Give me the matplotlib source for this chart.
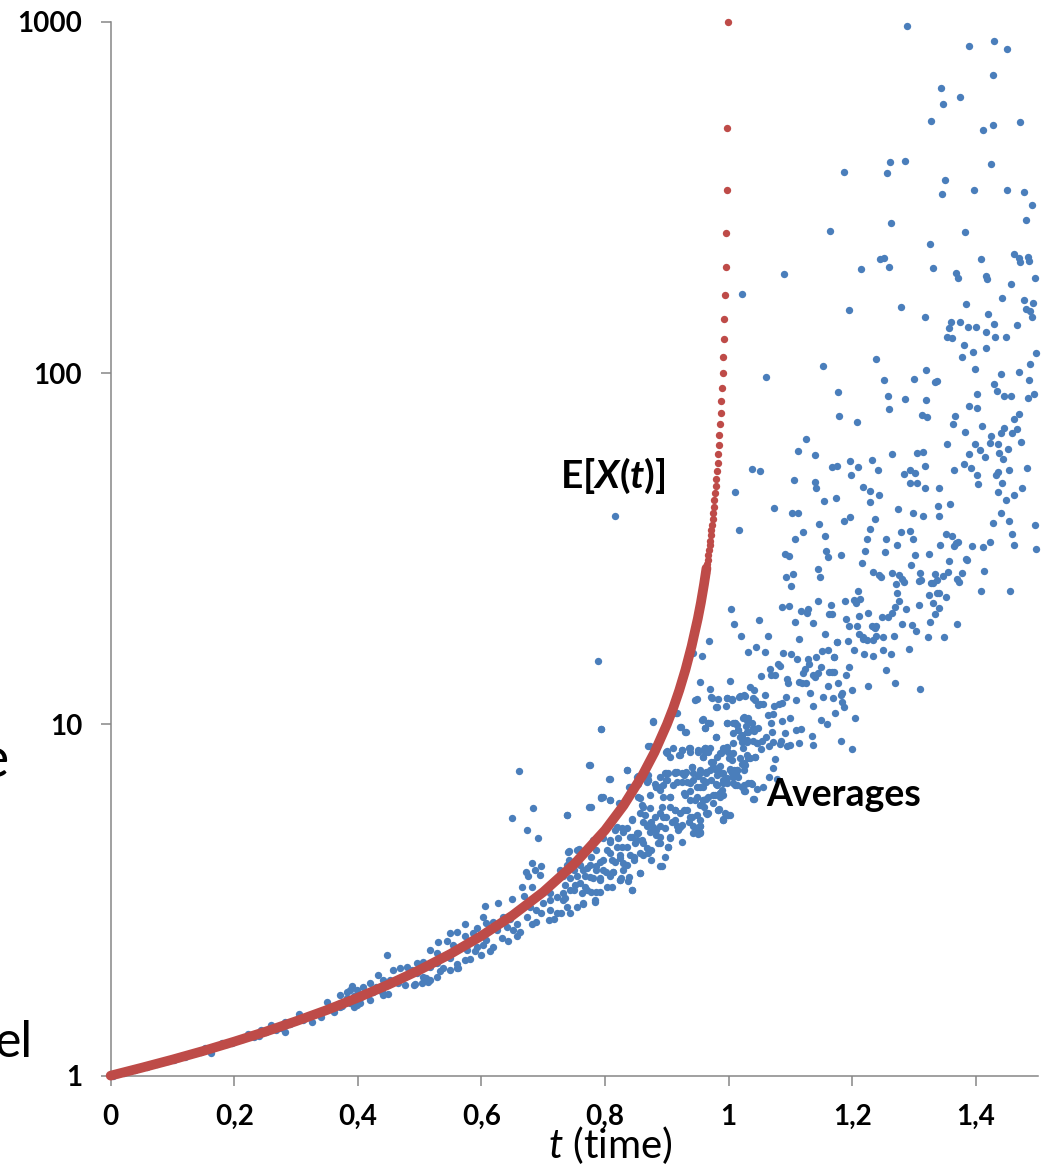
import numpy as np
import matplotlib
matplotlib.use("Agg")
import matplotlib.pyplot as plt
from matplotlib.ticker import NullLocator

plt.rcParams['font.family'] = ['Lato', 'DejaVu Sans']
plt.rcParams['mathtext.fontset'] = 'custom'
plt.rcParams['mathtext.rm'] = 'Lato'
plt.rcParams['mathtext.it'] = 'Lato:italic'
plt.rcParams['mathtext.bf'] = 'Lato:bold'
plt.rcParams['mathtext.bfit'] = 'Lato:italic:bold'

# E[X(t)] : continuous (dense) part of the red curve
curve_t = [0, 0.05, 0.1, 0.15, 0.2, 0.25, 0.3, 0.35, 0.4, 0.45, 0.5, 0.55, 0.6,
           0.65, 0.7, 0.75, 0.8, 0.83, 0.86, 0.88, 0.9, 0.91, 0.92, 0.93, 0.94,
           0.95, 0.955, 0.96, 0.964]
curve_x = [1.0, 1.053, 1.111, 1.176, 1.25, 1.333, 1.429, 1.538, 1.667, 1.818, 2.0,
           2.222, 2.5, 2.857, 3.333, 4.0, 5.0, 5.88, 7.14, 8.33, 10.0, 11.1, 12.5,
           14.3, 16.7, 20.0, 22.2, 25.0, 27.8]

# E[X(t)] : separate red dots close to the blow-up at t = 1
tail_t = [0.962, 0.963, 0.964, 0.965, 0.966, 0.967, 0.968, 0.969, 0.970, 0.971,
          0.972, 0.973, 0.974, 0.975, 0.976, 0.977, 0.978, 0.979, 0.980, 0.981,
          0.982, 0.983, 0.984, 0.985, 0.986, 0.987, 0.988, 0.989, 0.990, 0.991,
          0.992, 0.993, 0.994, 0.995, 0.996, 0.997, 0.998, 0.999]
tail_x = [26.3, 27.0, 27.8, 28.6, 29.4, 30.3, 31.3, 32.3, 33.3, 34.5,
          35.7, 37.0, 38.5, 40.0, 41.7, 43.5, 45.5, 47.6, 50.0, 52.6,
          55.6, 58.8, 62.5, 66.7, 71.4, 76.9, 83.3, 90.9, 100, 111,
          125, 143, 167, 200, 250, 333, 500, 1000]

# Averages (blue), early part where they hug the curve
early_t = [0.003, 0.012, 0.022, 0.030, 0.040, 0.048, 0.058, 0.066, 0.075, 0.085,
           0.093, 0.102, 0.110, 0.120, 0.128, 0.137, 0.146, 0.153, 0.163, 0.170,
           0.180, 0.188, 0.197, 0.205, 0.214, 0.223, 0.232, 0.240, 0.244, 0.252,
           0.260, 0.268, 0.275, 0.282, 0.282, 0.290, 0.298, 0.304, 0.312, 0.318,
           0.325, 0.332, 0.341, 0.350, 0.355, 0.362, 0.368, 0.375, 0.382, 0.390, 0.393]
early_x = [1.00, 1.01, 1.02, 1.03, 1.04, 1.05, 1.06, 1.07, 1.08, 1.09,
           1.10, 1.11, 1.125, 1.13, 1.15, 1.16, 1.17, 1.20, 1.16, 1.21,
           1.24, 1.23, 1.24, 1.26, 1.27, 1.31, 1.29, 1.30, 1.35, 1.33,
           1.39, 1.35, 1.37, 1.42, 1.33, 1.40, 1.43, 1.50, 1.44, 1.48,
           1.42, 1.50, 1.47, 1.62, 1.55, 1.52, 1.60, 1.58, 1.66, 1.80, 1.57]

# Averages (blue), dense band between t = 0.72 and t = 1.05
mid_t = [
    0.948, 0.972, 0.980, 0.997, 1.005, 1.018, 1.026, 1.040, 1.048, 0.916,
    0.878, 0.794, 0.921, 0.931, 0.959, 0.967, 0.961, 0.997, 1.010, 1.023,
    1.032, 1.037, 1.015, 1.029, 1.040, 0.979, 1.021, 1.029, 1.045, 0.870,
    0.899, 0.905, 0.920, 0.924, 0.936, 0.951, 0.961, 0.967, 0.959, 0.986,
    0.994, 0.999, 1.007, 1.023, 1.034, 1.042, 1.005, 0.776, 0.808, 0.835,
    0.854, 0.870, 0.889, 0.899, 0.913, 0.924, 0.931, 0.940, 0.953, 0.964,
    0.974, 0.983, 0.991, 1.002, 1.013, 1.026, 1.007, 0.883, 0.889, 0.894,
    0.899, 0.916, 0.932, 0.943, 0.948, 0.959, 0.972, 0.980, 0.991, 1.010,
    1.021, 1.037, 1.026, 1.040, 0.905, 0.894, 0.856, 0.794, 0.808, 0.929,
    0.937, 0.945, 0.959, 0.967, 0.978, 0.986, 0.975, 0.778, 0.738, 0.859,
    0.873, 0.889, 0.905, 0.913, 0.921, 0.932, 0.937, 0.948, 0.964, 0.983,
    0.994, 0.999, 0.991, 0.864, 0.881, 0.899, 0.913, 0.843, 0.862, 0.816,
    0.827, 0.835, 0.854, 0.867, 0.873, 0.883, 0.889, 0.897, 0.905, 0.916,
    0.924, 0.943, 0.953, 0.943, 0.951, 0.873, 0.883, 0.781, 0.797, 0.808,
    0.821, 0.827, 0.843, 0.848, 0.859, 0.867, 0.889, 0.902, 0.924, 0.786,
    0.754, 0.740, 0.808, 0.824, 0.840, 0.856, 0.870, 0.875, 0.889, 0.792,
    0.778, 0.816, 0.829, 0.846, 0.727, 0.738, 0.749, 0.759, 0.770, 0.786,
    0.802, 0.813, 0.829, 0.856, 0.732, 0.743, 0.754, 0.767, 0.781, 0.792,
    0.808, 0.824, 0.837, 0.735, 0.751, 0.767, 0.792, 0.811, 0.843, 0.732,
    0.749, 0.762, 0.778, 0.784, 0.765, 0.735,
]
mid_x = [
    11.78, 11.94, 11.23, 11.86, 11.73, 12.05, 12.05, 11.86, 11.36, 10.75,
    10.18, 9.68, 9.85, 9.53, 10.34, 10.07, 9.74, 10.07, 10.07, 10.40,
    10.40, 10.07, 9.64, 9.53, 9.64, 9.19, 9.23, 8.93, 8.83, 8.68,
    8.36, 8.10, 8.18, 8.46, 8.55, 8.36, 8.55, 8.36, 8.10, 8.27,
    8.55, 8.36, 8.83, 8.55, 8.01, 8.10, 7.92, 7.67, 6.98, 7.42,
    7.13, 6.95, 7.10, 7.26, 7.34, 7.26, 7.34, 7.55, 7.26, 7.29,
    7.79, 7.50, 7.26, 7.42, 7.42, 7.67, 7.10, 6.65, 6.51, 6.72,
    6.95, 6.87, 6.87, 6.95, 6.65, 6.65, 6.95, 6.77, 6.95, 6.72,
    6.65, 6.77, 6.48, 6.12, 6.23, 6.23, 6.16, 6.20, 6.09, 6.30,
    6.44, 6.09, 6.09, 6.20, 6.30, 6.37, 5.96, 5.83, 5.52, 5.90,
    5.77, 5.58, 5.83, 5.71, 5.58, 5.71, 5.46, 5.52, 5.58, 5.71,
    5.61, 5.52, 5.34, 5.52, 5.46, 5.46, 5.34, 5.37, 5.29, 5.01,
    5.06, 5.06, 4.90, 5.12, 5.23, 5.01, 5.12, 5.06, 4.79, 5.12,
    5.17, 5.12, 5.12, 4.90, 4.88, 4.95, 4.84, 4.69, 4.74, 4.64,
    4.74, 4.49, 4.79, 4.59, 4.69, 4.44, 4.59, 4.49, 4.64, 4.39,
    4.39, 4.34, 4.30, 4.25, 4.25, 4.30, 4.30, 4.11, 3.94, 4.07,
    4.20, 4.07, 4.02, 4.11, 3.85, 3.98, 3.85, 3.98, 3.90, 3.85,
    3.81, 3.81, 3.85, 3.77, 3.69, 3.65, 3.69, 3.69, 3.65, 3.61,
    3.69, 3.61, 3.57, 3.49, 3.49, 3.45, 3.34, 3.45, 3.38, 3.31,
    3.38, 3.31, 3.34, 3.16, 3.09, 3.20,
]

# Averages (blue), rest of the cloud
avg_t = [
    1.289, 1.388, 1.430, 1.450, 1.427, 1.344, 1.375, 1.346, 1.327, 1.411,
    1.428, 1.472, 1.261, 1.286, 1.256, 1.187, 1.424, 1.350, 1.345, 1.397,
    1.451, 1.478, 1.491, 1.481, 1.164, 1.263, 1.382, 1.325, 1.245, 1.252,
    1.260, 1.214, 1.330, 1.089, 1.022, 1.409, 1.462, 1.470, 1.471, 1.484,
    1.486, 1.496, 1.368, 1.371, 1.416, 1.418, 1.456, 1.442, 1.477, 1.492,
    1.481, 1.488, 1.490, 1.194, 1.278, 1.318, 1.384, 1.420, 1.430, 1.467,
    1.359, 1.375, 1.356, 1.387, 1.400, 1.417, 1.431, 1.448, 1.353, 1.362,
    1.381, 1.395, 1.416, 1.498, 1.239, 1.153, 1.060, 1.251, 1.299, 1.319,
    1.333, 1.337, 1.378, 1.398, 1.441, 1.470, 1.488, 1.486, 1.429, 1.434,
    1.402, 1.445, 1.457, 1.494, 1.485, 1.177, 1.258, 1.285, 1.319, 1.259,
    1.178, 1.208, 1.312, 1.321, 1.389, 1.401, 1.366, 1.363, 1.410, 1.383,
    1.354, 1.469, 1.461, 1.446, 1.466, 1.440, 1.458, 1.424, 1.473, 1.423,
    1.436, 1.399, 1.389, 1.407, 1.414, 1.438, 1.444, 1.452, 1.125, 1.112,
    1.139, 1.038, 1.051, 1.010, 1.017, 1.074, 1.105, 1.139, 1.142, 1.167,
    1.176, 1.196, 1.209, 1.198, 1.232, 1.242, 1.265, 1.305, 1.314, 1.317,
    1.283, 1.294, 1.302, 1.293, 1.305, 1.318, 1.340, 1.364, 1.380, 1.392,
    1.402, 1.403, 1.433, 1.436, 1.443, 1.454, 1.483, 1.474, 1.461, 1.435,
    1.448, 1.440, 1.427, 1.453, 1.459, 1.462, 1.495, 1.497, 1.217, 1.229,
    1.243, 1.229, 1.174, 1.154, 1.102, 1.112, 1.146, 1.121, 1.155, 1.107,
    1.157, 1.161, 1.181, 1.091, 1.097, 1.145, 1.147, 1.093, 1.104, 1.100,
    1.186, 1.197, 1.228, 1.237, 1.224, 1.221, 1.216, 1.255, 1.253, 1.273,
    1.274, 1.298, 1.315, 1.279, 1.293, 1.298, 1.302, 1.324, 1.342, 1.340,
    1.358, 1.338, 1.351, 1.362, 1.367, 1.371, 1.364, 1.384, 1.386, 1.393,
    1.412, 1.422, 1.413, 1.408, 1.455, 1.357, 1.355, 1.347, 1.377, 1.369,
    1.373, 1.333, 1.337, 1.331, 1.327, 1.309, 1.308, 1.311, 1.295, 1.264,
    1.276, 1.280, 1.270, 1.284, 1.234, 1.243, 1.246, 1.272, 1.276, 1.324,
    1.337, 1.341, 1.352, 1.308, 1.331, 1.340, 1.334, 1.287, 1.269, 1.265,
    1.257, 1.248, 1.281, 1.296, 1.303, 1.326, 1.369, 1.322, 1.348, 1.292,
    1.267, 1.249, 1.239, 1.234, 1.223, 1.217, 1.232, 1.235, 1.239, 1.236,
    1.226, 1.210, 1.202, 1.212, 1.206, 1.188, 1.190, 1.195, 1.207, 1.211,
    1.211, 1.217, 1.193, 1.202, 1.219, 1.233, 1.249, 1.263, 1.255, 1.269,
    1.225, 1.310, 1.175, 1.163, 1.167, 1.160, 1.151, 1.142, 1.129, 1.130,
    1.170, 1.171, 1.194, 1.189, 1.177, 1.167, 1.170, 1.163, 1.161, 1.149,
    1.140, 1.136, 1.144, 1.123, 1.121, 1.119, 1.125, 1.114, 1.132, 1.109,
    1.092, 1.096, 1.095, 1.111, 1.101, 1.088, 1.059, 1.044, 1.032, 1.080,
    1.083, 1.067, 1.075, 1.068, 1.053, 1.064, 1.049, 1.020, 1.003, 1.009,
    0.968, 0.956, 1.113, 1.087, 1.098, 1.117, 1.126, 1.129, 1.107, 1.136,
    1.144, 1.165, 1.156, 1.176, 1.034, 1.041, 1.043, 1.058, 1.051, 1.055,
    1.024, 1.017, 1.002, 0.998, 1.006, 0.981, 0.973, 0.970, 0.996, 1.081,
    1.087, 1.073, 1.071, 1.063, 1.068, 1.099, 1.087, 1.091, 1.109, 1.117,
    1.114, 1.134, 1.137, 1.150, 1.159, 1.182, 1.200, 1.204, 1.137, 1.153,
    1.168, 1.172, 1.182, 1.183, 1.186, 1.184, 1.199, 1.007, 0.997, 0.967,
    0.979, 0.960, 0.961, 1.025, 1.030, 1.028, 1.039, 1.048, 1.032, 1.041,
    1.013, 1.015, 1.018, 1.022, 1.040, 1.045, 1.054, 1.061, 1.053, 1.066,
    1.072, 1.084, 1.083, 1.095, 1.099, 1.070, 1.075, 1.071, 1.043, 1.031,
    1.022, 1.008, 1.002, 0.991, 1.000, 0.987, 0.978, 0.986, 0.972, 0.959,
    1.012, 1.015, 1.065, 1.078, 1.025, 1.036, 1.046, 1.056, 1.041, 0.990,
    0.986, 0.975, 0.963, 0.960, 0.954, 0.984, 0.990, 0.999, 0.965, 0.954,
    0.954, 0.660, 0.774, 0.807, 0.835, 0.852, 0.869, 0.900, 0.921, 0.937,
    0.650, 0.684, 0.673, 0.691, 0.739, 0.774, 0.794, 0.808, 0.823, 0.838,
    0.854, 0.867, 0.881, 0.889, 0.897, 0.913, 0.927, 0.943, 0.951, 0.959,
    0.970, 0.981, 0.991, 1.005, 1.013, 1.024, 1.032, 0.927, 0.937, 0.948,
    0.959, 0.986, 0.997, 1.013, 0.873, 0.892, 0.905, 0.913, 0.927, 0.940,
    0.954, 0.967, 0.983, 0.991, 1.002, 0.862, 0.856, 0.875, 0.894, 0.908,
    0.921, 0.935, 0.948, 0.954, 0.843, 0.819, 0.829, 0.840, 0.851, 0.808,
    0.803, 0.819, 0.835, 0.851, 0.862, 0.875, 0.878, 0.889, 0.905, 0.918,
    0.902, 0.886, 0.897, 0.892, 0.856, 0.797, 0.811, 0.824, 0.835, 0.846,
    0.862, 0.786, 0.797, 0.813, 0.776, 0.792, 0.824, 0.838, 0.765, 0.776,
    0.826, 0.843, 0.759, 0.770, 0.786, 0.803, 0.765, 0.784, 0.742, 0.757,
    0.741, 0.749, 0.681, 0.687, 0.697, 0.672, 0.676, 0.695, 0.682, 0.668,
    0.665, 0.649, 0.627, 0.606, 0.711, 0.722, 0.732, 0.743, 0.738, 0.743,
    0.754, 0.711, 0.722, 0.728, 0.710, 0.717, 0.678, 0.689, 0.697, 0.673,
    0.681, 0.689, 0.711, 0.700, 0.603, 0.618, 0.633, 0.646, 0.657, 0.625,
    0.641, 0.651, 0.662, 0.633, 0.643, 0.657, 0.573, 0.592, 0.549, 0.560,
    0.573, 0.587, 0.598, 0.608, 0.619, 0.614, 0.592, 0.603, 0.530, 0.544,
    0.554, 0.565, 0.576, 0.589, 0.600, 0.581, 0.447, 0.517, 0.528, 0.538,
    0.549, 0.560, 0.573, 0.495, 0.506, 0.517, 0.528, 0.538, 0.549, 0.560,
    0.457, 0.468, 0.479, 0.487, 0.495, 0.506, 0.517, 0.528, 0.452, 0.465,
    0.476, 0.490, 0.503, 0.514, 0.433, 0.441, 0.420, 0.430, 0.409, 0.398,
    0.387, 0.393, 0.403, 0.414, 0.425, 0.439, 0.449, 0.387, 0.398, 0.816,
    0.788, 0.794, 0.942, 0.954, 0.945, 0.983, 0.915, 0.878, 0.923, 0.930,
    0.956, 0.969, 0.962, 1.010, 1.029, 1.007, 1.021, 1.030, 0.872, 0.900,
    0.910, 0.924, 0.937, 0.951, 0.962, 0.970, 0.981, 0.990, 0.997, 1.007,
    1.018, 1.029, 0.940, 0.929, 0.916, 0.902, 0.954, 0.964, 0.975, 0.986,
    0.997, 1.010, 1.024, 0.900, 0.910, 0.924, 0.937, 0.954, 0.964, 0.981,
    0.989, 1.007, 1.024, 0.883, 0.870, 0.854, 0.840, 0.796, 0.371, 0.382,
    0.371, 0.403, 0.420, 0.441, 0.492, 0.511, 0.533, 0.562, 0.635, 0.608,
]
avg_x = [
    975, 853, 884, 838, 706, 650, 610, 585, 523, 492,
    507, 518, 400, 402, 371, 374, 393, 355, 323, 331,
    332, 328, 300, 272, 254, 267, 252, 233, 211, 212,
    201, 198, 199, 191, 168, 211, 218, 212, 207, 214,
    209, 187, 193, 187, 189, 185, 179, 164, 161, 158,
    152, 150, 144, 151, 154, 144, 157, 147, 138, 137,
    140, 140, 134, 135, 135, 131, 127, 127, 127, 126,
    120, 115, 118, 114, 110, 105, 97.5, 95.8, 96.2, 102,
    94.1, 95.0, 111, 103, 99.4, 101, 106, 95.8, 92.9, 88.7,
    87.4, 86.2, 86.2, 87.4, 85.0, 88.2, 85.8, 84.5, 83.7, 78.9,
    75.4, 72.4, 76.2, 74.8, 80.7, 79.4, 75.4, 71.5, 70.8, 68.0,
    62.7, 76.3, 74.0, 69.9, 69.3, 67.4, 67.4, 66.3, 63.8, 63.4,
    62.8, 63.0, 58.9, 60.4, 57.6, 59.4, 56.9, 60.7, 64.9, 60.0,
    58.6, 53.3, 52.5, 45.8, 35.7, 41.4, 49.7, 49.0, 47.0, 54.2,
    54.5, 56.3, 54.2, 51.3, 56.4, 52.9, 58.9, 59.4, 59.8, 54.5,
    51.5, 53.0, 51.8, 48.6, 48.5, 47.0, 47.2, 53.0, 55.0, 53.7,
    51.1, 48.4, 51.1, 52.4, 48.7, 53.0, 53.7, 47.0, 44.9, 45.8,
    43.5, 40.0, 37.4, 38.0, 34.9, 32.5, 36.9, 31.5, 47.4, 46.2,
    44.9, 43.0, 44.2, 43.1, 40.0, 40.0, 37.2, 35.3, 34.3, 33.7,
    31.2, 30.0, 30.3, 30.5, 30.2, 27.6, 26.3, 26.2, 26.8, 24.8,
    37.9, 38.9, 36.0, 38.5, 33.6, 31.2, 28.8, 33.6, 31.0, 32.4,
    41.0, 40.0, 39.3, 35.2, 35.6, 33.7, 30.4, 30.6, 32.3, 39.2,
    42.4, 41.9, 34.9, 34.3, 32.9, 33.0, 32.2, 29.6, 29.4, 32.1,
    32.0, 33.0, 27.4, 23.9, 24.0, 29.1, 27.2, 26.4, 26.9, 25.9,
    25.4, 26.8, 25.8, 25.2, 25.3, 26.9, 25.6, 25.7, 28.5, 26.9,
    26.7, 25.9, 25.1, 25.5, 27.1, 26.7, 26.2, 23.6, 22.5, 23.3,
    23.7, 23.6, 23.1, 21.9, 22.1, 21.5, 20.6, 21.3, 21.6, 20.7,
    20.2, 20.2, 19.3, 19.2, 18.5, 19.6, 19.3, 17.7, 17.7, 16.4,
    17.8, 17.7, 17.9, 17.4, 17.4, 17.5, 19.1, 18.9, 19.0, 18.8,
    20.7, 24.0, 22.6, 22.7, 22.2, 22.5, 20.0, 19.1, 19.0, 20.3,
    18.1, 17.7, 17.3, 16.3, 15.9, 15.7, 16.3, 15.9, 14.3, 13.1,
    12.9, 12.6, 17.2, 20.6, 20.6, 16.3, 16.2, 15.6, 15.3, 14.9,
    15.5, 15.6, 14.6, 13.8, 13.1, 14.1, 14.1, 14.1, 12.9, 14.6,
    13.6, 13.8, 14.0, 14.4, 14.0, 13.1, 13.1, 13.2, 12.3, 11.7,
    12.0, 13.1, 13.5, 15.3, 15.9, 16.0, 16.1, 16.6, 16.1, 14.9,
    14.7, 14.4, 13.8, 13.8, 13.7, 17.9, 19.8, 17.8, 21.3, 19.3,
    17.3, 15.7, 17.5, 21.6, 21.7, 21.0, 20.8, 21.3, 19.5, 19.4,
    22.5, 21.9, 18.1, 17.2, 12.8, 12.5, 11.7, 12.1, 11.4, 11.4,
    12.1, 12.0, 13.3, 11.9, 11.8, 11.2, 11.9, 12.6, 11.3, 11.4,
    11.5, 11.3, 10.7, 10.6, 10.1, 10.4, 10.2, 9.45, 9.66, 9.70,
    8.85, 9.27, 8.73, 10.3, 10.0, 8.97, 8.49, 10.4, 11.3, 12.0,
    11.9, 10.8, 12.1, 11.6, 11.2, 12.3, 12.5, 10.1, 10.1, 10.1,
    9.18, 8.49, 8.55, 10.5, 10.3, 9.90, 9.78, 9.78, 9.49, 9.57,
    9.96, 9.64, 9.23, 8.90, 8.97, 8.84, 8.97, 9.21, 8.49, 8.69,
    8.91, 8.99, 8.78, 8.69, 8.75, 9.53, 7.97, 7.53, 8.10, 8.00,
    7.70, 7.40, 7.45, 8.46, 8.00, 8.30, 7.45, 7.60, 7.80, 8.10,
    7.25, 7.10, 7.10, 7.00, 6.47, 6.80, 6.56, 6.62, 6.13, 6.30,
    6.20, 6.28, 6.12, 5.83, 5.90, 5.74, 5.37, 5.53, 5.55, 5.12,
    4.90, 7.35, 7.67, 6.98, 7.40, 7.10, 7.18, 8.31, 8.18, 8.36,
    5.40, 5.77, 5.00, 4.76, 5.51, 5.81, 6.18, 6.09, 5.98, 6.65,
    6.75, 6.87, 6.75, 6.65, 7.26, 7.29, 7.18, 7.26, 7.13, 6.94,
    7.41, 7.18, 6.80, 7.26, 7.40, 7.75, 6.80, 6.37, 6.10, 6.23,
    6.10, 6.37, 6.80, 6.73, 6.30, 5.83, 6.22, 5.72, 5.72, 5.46,
    5.35, 5.59, 5.72, 5.35, 5.52, 5.83, 5.58, 5.29, 5.46, 5.29,
    5.11, 5.29, 5.06, 4.95, 5.35, 5.11, 4.95, 4.79, 4.90, 4.69,
    4.38, 4.48, 4.48, 4.69, 4.59, 4.38, 5.11, 4.79, 4.74, 5.00,
    4.48, 4.59, 4.20, 3.94, 3.77, 4.11, 4.11, 4.16, 3.98, 4.20,
    4.25, 3.94, 3.85, 3.81, 3.68, 3.65, 3.61, 3.68, 3.85, 3.98,
    3.65, 3.37, 3.54, 3.37, 3.33, 3.44, 3.10, 3.13, 4.37, 4.41,
    4.11, 4.02, 4.04, 3.85, 3.95, 3.79, 3.71, 3.73, 3.45, 3.25,
    3.45, 3.18, 3.11, 3.04, 3.30, 3.23, 3.16, 3.37, 3.03, 2.90,
    3.03, 2.96, 2.90, 2.91, 2.77, 2.80, 3.03, 2.96, 2.90, 2.83,
    2.71, 2.74, 3.16, 3.10, 2.83, 2.74, 2.76, 2.80, 2.71, 2.60,
    2.65, 2.60, 2.57, 2.46, 2.41, 2.49, 2.70, 2.64, 2.55, 2.57,
    2.49, 2.54, 2.51, 2.43, 2.33, 2.26, 2.33, 2.36, 2.40, 2.41,
    2.36, 2.33, 2.28, 2.26, 2.20, 2.15, 2.20, 2.28, 2.23, 2.18,
    2.16, 2.08, 2.13, 2.09, 2.11, 2.04, 2.09, 2.02, 2.00, 2.02,
    2.00, 2.02, 2.04, 2.00, 1.96, 1.91, 1.87, 1.91, 1.87, 1.83,
    1.81, 1.81, 1.83, 1.85, 1.93, 1.87, 1.83, 1.79, 1.79, 1.75,
    1.75, 1.68, 1.66, 1.70, 1.73, 1.73, 1.71, 1.61, 1.59, 39.3,
    15.1, 9.70, 16.0, 13.2, 11.7, 11.8, 10.75, 10.2, 9.85, 9.53,
    10.3, 10.1, 9.75, 10.1, 10.3, 9.42, 9.32, 9.02, 8.68, 8.42,
    8.55, 8.46, 8.55, 8.46, 8.37, 8.55, 8.10, 8.55, 8.64, 8.28,
    8.00, 8.19, 7.58, 7.26, 7.33, 7.29, 7.41, 7.33, 7.58, 7.25,
    7.02, 7.25, 7.41, 6.95, 6.72, 6.87, 6.80, 6.65, 6.87, 6.72,
    6.50, 6.80, 6.72, 6.65, 6.95, 6.22, 6.65, 6.22, 1.70, 1.73,
    1.57, 1.61, 1.64, 1.70, 1.82, 1.90, 1.98, 2.03, 2.83, 2.72,
]

x_ticks = [0, 0.2, 0.4, 0.6, 0.8, 1.0, 1.2, 1.4]
x_tick_labels = ["0", "0,2", "0,4", "0,6", "0,8", "1", "1,2", "1,4"]
y_ticks = [1, 10, 100, 1000]
y_tick_labels = ["1", "10", "100", "1000"]

BLUE = "#4A7EBB"
RED = "#BE4B48"
GREY = "#868686"

fig = plt.figure(figsize=(10.42, 11.65), dpi=100)
ax = fig.add_axes([0.1062, 0.0767, 0.8897, 0.9046])

# blue cloud of averages
ax.scatter(early_t + mid_t + avg_t, early_x + mid_x + avg_x, s=28, color=BLUE,
           linewidths=0, zorder=2, clip_on=False)
# red expected value: thick band, then separate dots near t = 1
ax.plot(curve_t, curve_x, color=RED, lw=7, solid_capstyle='round',
        zorder=3, clip_on=False)
ax.scatter(tail_t, tail_x, s=28, color=RED, linewidths=0, zorder=3, clip_on=False)

ax.set_yscale('log')
ax.set_xlim(0, 1.5)
ax.set_ylim(1, 1000)
ax.set_xticks(x_ticks, labels=x_tick_labels, fontsize=20, fontweight='bold')
ax.set_yticks(y_ticks, labels=y_tick_labels, fontsize=20, fontweight='bold')
ax.xaxis.set_minor_locator(NullLocator())
ax.yaxis.set_minor_locator(NullLocator())
ax.tick_params(direction='out', length=7.5, width=1.1, color=GREY, pad=13)

for side in ['top', 'right']:
    ax.spines[side].set_visible(False)
for side in ['left', 'bottom']:
    ax.spines[side].set_color(GREY)
    ax.spines[side].set_linewidth(1.1)

# labels inside the plot
fig.text(0.5878, 0.5811, r'E[$\mathbfit{X}$($\mathbfit{t}$)]', fontsize=28,
         fontweight='bold', ha='center', va='baseline')
fig.text(0.8095, 0.3082, 'Averages', fontsize=27, fontweight='bold',
         ha='center', va='baseline')
fig.text(0.5854, 0.0060, r'$\mathit{t}$ (time)', fontsize=29,
         ha='center', va='baseline')

# pieces of neighbouring slide text cut by the left edge
fig.text(0.0086, 0.3330, 'e', fontsize=40, ha='right', va='baseline')
fig.text(0.0317, 0.0927, 'el', fontsize=36, ha='right', va='baseline')

fig.savefig('out.png', dpi=100)
